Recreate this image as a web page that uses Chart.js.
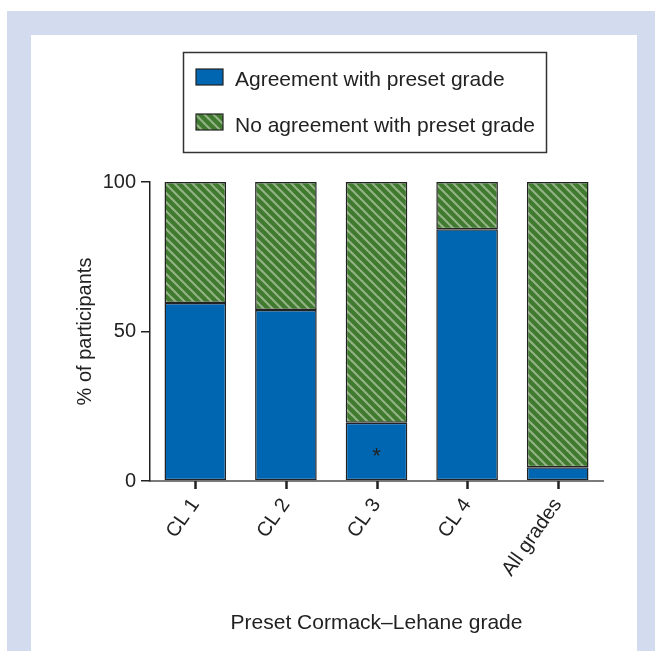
<!DOCTYPE html>
<html>
<head>
<meta charset="utf-8">
<script src="https://cdn.jsdelivr.net/npm/chart.js@4.4.1/dist/chart.umd.min.js"></script>
<style>
  html, body { margin: 0; padding: 0; background: #ffffff; }
  #wrap { position: relative; width: 655px; height: 651px; overflow: hidden; }
  #frame { position: absolute; left: 7px; top: 11px; width: 648px; height: 640px; background: #d3dcee; }
  #panel { position: absolute; left: 31px; top: 35px; width: 606px; height: 616px; background: #ffffff; }
  #c { position: absolute; left: 0; top: 0; }
</style>
</head>
<body>
<div id="wrap">
  <div id="frame"></div>
  <div id="panel"></div>
  <canvas id="c" width="655" height="651"></canvas>
</div>
<script>
// ---- data ----
const categories = ['CL 1', 'CL 2', 'CL 3', 'CL 4', 'All grades'];
const agreement = [59.5, 57.2, 19.5, 84.2, 4.6];
const noAgreement = [40.5, 42.8, 80.5, 15.8, 95.4];
const seriesLabels = ['Agreement with preset grade', 'No agreement with preset grade'];
const yTicks = [0, 50, 100];
const annotations = [{ category: 'CL 3', value: 6, text: '*' }];
const xTitle = 'Preset Cormack\u2013Lehane grade';
const yTitle = '% of participants';

// ---- styles ----
const FONT = "'Liberation Sans', Arial, Helvetica, sans-serif";
const BLUE = '#0066b1';
const GREEN = '#3f7a2f';
const STRIPE = '#93b385';
const DARK = '#222222';

function makePattern() {
  const s = 9;
  const pc = document.createElement('canvas');
  pc.width = s; pc.height = s;
  const g = pc.getContext('2d');
  g.fillStyle = GREEN;
  g.fillRect(0, 0, s, s);
  g.strokeStyle = STRIPE;
  g.lineWidth = 2.2;
  for (let k = -1; k <= 1; k++) {
    g.beginPath();
    g.moveTo(k * s - 1, -1);
    g.lineTo(k * s + s + 1, s + 1);
    g.stroke();
  }
  return document.getElementById('c').getContext('2d').createPattern(pc, 'repeat');
}
const hatch = makePattern();

Chart.defaults.font.family = FONT;
Chart.defaults.font.size = 20;
Chart.defaults.color = DARK;

const legendBoxPlugin = {
  id: 'legendBox',
  afterDraw(chart) {
    const ctx = chart.ctx;
    ctx.save();
    ctx.strokeStyle = '#333333';
    ctx.lineWidth = 1.5;
    ctx.strokeRect(183.5, 52.5, 363, 100);
    const rows = [{ y: 69, base: 86 }, { y: 114, base: 132 }];
    chart.data.datasets.forEach((ds, i) => {
      const r = rows[i];
      ctx.fillStyle = ds.backgroundColor;
      ctx.fillRect(196, r.y, 27, 16);
      ctx.strokeStyle = DARK;
      ctx.lineWidth = 1.2;
      ctx.strokeRect(196, r.y, 27, 16);
      ctx.fillStyle = DARK;
      ctx.font = '21px ' + FONT;
      ctx.textAlign = 'left';
      ctx.textBaseline = 'alphabetic';
      ctx.fillText(ds.label, 235, r.base);
    });
    ctx.restore();
  }
};

// category tick marks at bar centres, placed through the x scale
const xTickMarks = {
  id: 'xTickMarks',
  afterDraw(chart) {
    const xs = chart.scales.x;
    const ctx = chart.ctx;
    const y0 = chart.chartArea.bottom;
    ctx.save();
    ctx.strokeStyle = DARK;
    ctx.lineWidth = 2.5;
    for (let i = 0; i < categories.length; i++) {
      const x = Math.round(xs.getPixelForValue(i)) + 0.5;
      ctx.beginPath();
      ctx.moveTo(x, y0);
      ctx.lineTo(x, y0 + 8);
      ctx.stroke();
    }
    ctx.restore();
  }
};

const annotationPlugin = {
  id: 'starAnno',
  afterDatasetsDraw(chart) {
    const ctx = chart.ctx;
    const xs = chart.scales.x, ys = chart.scales.y;
    ctx.save();
    ctx.fillStyle = DARK;
    ctx.font = '22px ' + FONT;
    ctx.textAlign = 'center';
    ctx.textBaseline = 'alphabetic';
    annotations.forEach(a => {
      const x = xs.getPixelForValue(categories.indexOf(a.category));
      const y = ys.getPixelForValue(a.value);
      ctx.fillText(a.text, x, y);
    });
    ctx.restore();
  }
};

new Chart(document.getElementById('c'), {
  type: 'bar',
  data: {
    labels: categories,
    datasets: [
      {
        label: seriesLabels[0],
        data: agreement,
        backgroundColor: BLUE,
        borderColor: DARK,
        borderWidth: 1.5,
        borderSkipped: false,
        categoryPercentage: 1,
        barPercentage: 0.68
      },
      {
        label: seriesLabels[1],
        data: noAgreement,
        backgroundColor: hatch,
        borderColor: DARK,
        borderWidth: 1.5,
        borderSkipped: false,
        categoryPercentage: 1,
        barPercentage: 0.68
      }
    ]
  },
  options: {
    responsive: false,
    animation: false,
    layout: { padding: { left: 70, right: 52, top: 182, bottom: 11 } },
    plugins: {
      legend: { display: false },
      tooltip: { enabled: false }
    },
    scales: {
      x: {
        stacked: true,
        grid: { display: false, drawTicks: true, tickLength: 8 },
        border: { display: true, color: '#7a7a7a', width: 2 },
        ticks: { maxRotation: 55, minRotation: 55, padding: 5, color: DARK, font: { size: 20 } },
        title: { display: true, text: xTitle, color: DARK, font: { size: 21 }, padding: { top: 4, bottom: 4 } },
        afterFit(s) { s.height = 159; }
      },
      y: {
        stacked: true,
        min: 0,
        max: 100,
        afterBuildTicks(s) { s.ticks = yTicks.map(v => ({ value: v })); },
        grid: { display: true, drawOnChartArea: false, drawTicks: true, tickLength: 9, color: DARK, lineWidth: 1.5 },
        border: { display: true, color: DARK, width: 1.5 },
        ticks: { padding: 5, color: DARK, font: { size: 20 } },
        title: { display: true, text: yTitle, color: DARK, font: { size: 20 }, padding: { top: 3, bottom: 3 } },
        afterFit(s) { s.width = 80; }
      }
    }
  },
  plugins: [legendBoxPlugin, xTickMarks, annotationPlugin]
});
</script>
</body>
</html>
